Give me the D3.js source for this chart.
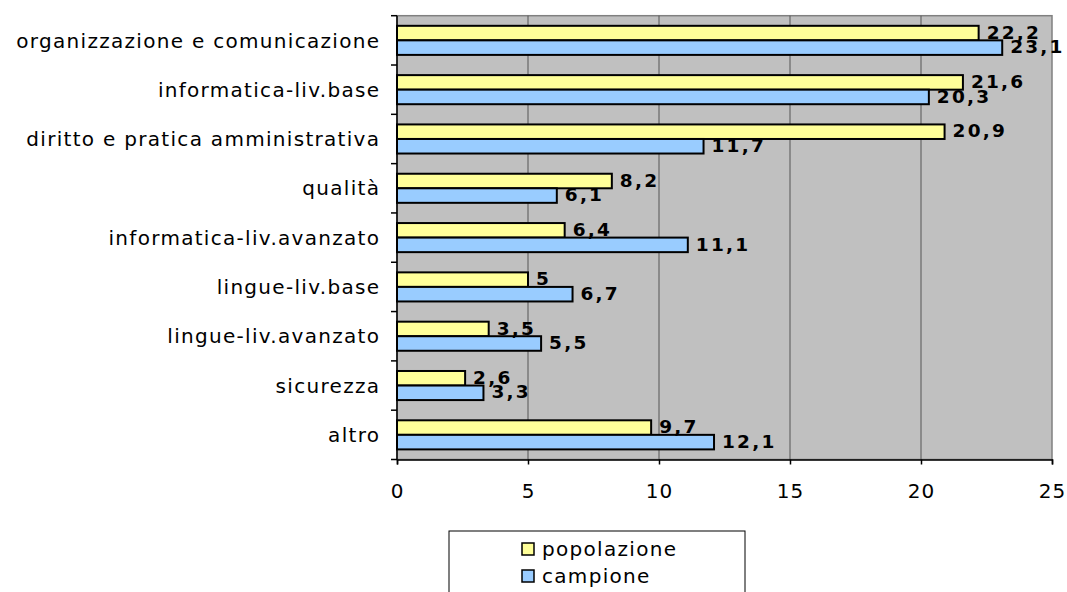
<!DOCTYPE html>
<html>
<head>
<meta charset="utf-8">
<script src="https://cdn.jsdelivr.net/npm/d3@7"></script>
<style>
  html, body { margin: 0; padding: 0; background: #ffffff; }
  svg { display: block; }
</style>
</head>
<body>
<svg id="chart" width="1067" height="592"></svg>
<script>
const categories = [
  "organizzazione e comunicazione",
  "informatica-liv.base",
  "diritto e pratica amministrativa",
  "qualità",
  "informatica-liv.avanzato",
  "lingue-liv.base",
  "lingue-liv.avanzato",
  "sicurezza",
  "altro"
];
const seriesNames = ["popolazione", "campione"];
const popolazione = [22.2, 21.6, 20.9, 8.2, 6.4, 5, 3.5, 2.6, 9.7];
const campione = [23.1, 20.3, 11.7, 6.1, 11.1, 6.7, 5.5, 3.3, 12.1];
const xTicks = [0, 5, 10, 15, 20, 25];
const seriesColors = ["#ffff99", "#99ccff"];

(function () {
const svg = d3.select("#chart");
const font = "'DejaVu Sans', Verdana, sans-serif";
const labelSize = 20, labelSpacing = 1.3;

const pLeft = 397, pRight = 1052, pTop = 15.7, pBottom = 459.5;

const x = d3.scaleLinear().domain([0, 25]).range([pLeft, pRight]);
const y0 = d3.scaleBand().domain(categories).range([pTop, pBottom])
  .paddingInner(0.41).paddingOuter(0.205);
const y1 = d3.scaleBand().domain(seriesNames).range([0, y0.bandwidth()]);

const data = categories.map((c, i) => ({
  cat: c,
  values: [
    { s: "popolazione", v: popolazione[i] },
    { s: "campione", v: campione[i] }
  ]
}));

svg.append("rect")
  .attr("x", pLeft).attr("y", pTop)
  .attr("width", pRight - pLeft).attr("height", pBottom - pTop)
  .attr("fill", "#c0c0c0")
  .attr("stroke", "#808080").attr("stroke-width", 1.5);

svg.append("g").selectAll("line")
  .data(xTicks.filter(t => t > 0 && t < 25))
  .join("line")
  .attr("x1", d => x(d)).attr("x2", d => x(d))
  .attr("y1", pTop).attr("y2", pBottom)
  .attr("stroke", "#555555").attr("stroke-width", 1);

const groups = svg.append("g").selectAll("g")
  .data(data).join("g")
  .attr("transform", d => `translate(0,${y0(d.cat)})`);

groups.selectAll("rect")
  .data(d => d.values).join("rect")
  .attr("x", x(0))
  .attr("y", d => y1(d.s))
  .attr("width", d => x(d.v) - x(0))
  .attr("height", y1.bandwidth())
  .attr("fill", (d, i) => seriesColors[i])
  .attr("stroke", "#000").attr("stroke-width", 2);

groups.selectAll("text")
  .data(d => d.values).join("text")
  .attr("x", d => x(d.v) + 8)
  .attr("y", d => y1(d.s) + y1.bandwidth() / 2 - 1)
  .attr("dy", "0.36em")
  .attr("font-family", font)
  .attr("font-weight", "bold")
  .attr("font-size", 18.5)
  .attr("letter-spacing", 2.2)
  .attr("fill", "#000")
  .text(d => String(d.v).replace(".", ","));

const xAxis = d3.axisBottom(x).tickValues(xTicks).tickSize(5).tickPadding(19)
  .tickFormat(d => String(d));
const gx = svg.append("g").attr("transform", `translate(0,${pBottom})`).call(xAxis);
gx.select(".domain").attr("stroke", "#000").attr("stroke-width", 1.5);
gx.selectAll(".tick line").attr("stroke", "#000").attr("stroke-width", 1.5);
gx.selectAll(".tick text").attr("font-family", font).attr("font-size", labelSize)
  .attr("letter-spacing", 1).attr("fill", "#000");

const yTickScale = d3.scaleLinear().domain([0, categories.length]).range([pTop, pBottom]);
const yAxisG = svg.append("g");
yAxisG.append("line")
  .attr("x1", pLeft).attr("x2", pLeft).attr("y1", pTop).attr("y2", pBottom)
  .attr("stroke", "#000").attr("stroke-width", 1.5);
yAxisG.selectAll("line.tk")
  .data(d3.range(categories.length + 1)).join("line").attr("class", "tk")
  .attr("x1", pLeft - 6).attr("x2", pLeft)
  .attr("y1", d => yTickScale(d)).attr("y2", d => yTickScale(d))
  .attr("stroke", "#000").attr("stroke-width", 1.5);
yAxisG.selectAll("text")
  .data(categories).join("text")
  .attr("x", pLeft - 18 + labelSpacing)
  .attr("y", d => y0(d) + y0.bandwidth() / 2)
  .attr("dy", "0.36em")
  .attr("text-anchor", "end")
  .attr("font-family", font)
  .attr("font-size", labelSize)
  .attr("letter-spacing", labelSpacing)
  .attr("fill", "#000")
  .text(d => d);

const legend = svg.append("g");
legend.append("rect")
  .attr("x", 449).attr("y", 531).attr("width", 296).attr("height", 70)
  .attr("fill", "#fff").attr("stroke", "#000").attr("stroke-width", 1);
const items = legend.selectAll("g.item")
  .data(seriesNames).join("g").attr("class", "item")
  .attr("transform", (d, i) => `translate(522,${549 + i * 27})`);
items.append("rect")
  .attr("x", 0).attr("y", -6).attr("width", 12).attr("height", 12)
  .attr("fill", (d, i) => seriesColors[i])
  .attr("stroke", "#000").attr("stroke-width", 1.5);
items.append("text")
  .attr("x", 20).attr("y", 0).attr("dy", "0.36em")
  .attr("font-family", font).attr("font-size", labelSize)
  .attr("letter-spacing", labelSpacing).attr("fill", "#000")
  .text(d => d);
})();
</script>
</body>
</html>
